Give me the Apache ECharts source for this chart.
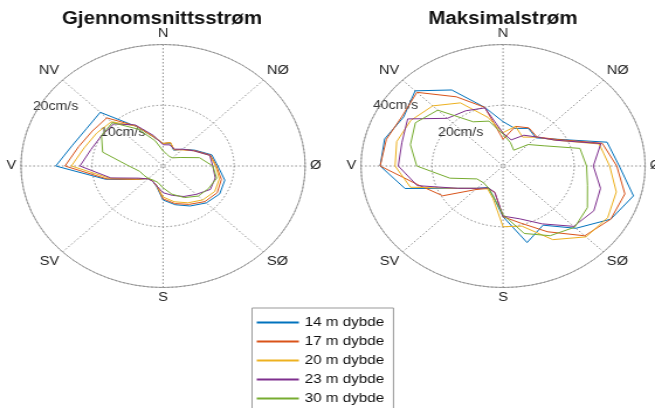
<!DOCTYPE html>
<html><head><meta charset="utf-8">
<script src="https://cdn.jsdelivr.net/npm/echarts@6/dist/echarts.min.js"></script>
<style>
html,body{margin:0;padding:0;background:#fff;overflow:hidden;width:655px;height:408px}
#c{width:560px;height:408px;transform:scaleX(1.16964);transform-origin:0 0;}
</style>
</head><body><div id="c"></div>
<script>
// compass labels for angle ticks (every 45 degrees)
const directions = ['N', 'NØ', 'Ø', 'SØ', 'S', 'SV', 'V', 'NV'];
// direction bins (degrees, clockwise from north)
const angles = [0, 15, 30, 45, 60, 75, 90, 105, 120, 135, 150, 165, 180, 195, 210, 225, 240, 255, 270, 285, 300, 315, 330, 345];
const seriesNames = ['14 m dybde', '17 m dybde', '20 m dybde', '23 m dybde', '30 m dybde'];
const titles = ['Gjennomsnittsstrøm', 'Maksimalstrøm'];
const avgRingLabels = ['10cm/s', '20cm/s'];
const maxRingLabels = ['20cm/s', '40cm/s'];

// Gjennomsnittsstrøm (cm/s)
const avg14 = [3.7, 3.9, 3.0, 3.9, 5.2, 7.1, 7.7, 9.0, 9.2, 8.6, 7.6, 6.6, 5.6, 3.5, 2.9, 2.9, 4.4, 8.4, 15.1, 13.2, 12.4, 12.5, 7.5, 4.9];
const avg17 = [3.7, 4.0, 3.1, 3.8, 5.1, 6.9, 7.5, 8.5, 8.8, 8.3, 7.3, 6.4, 5.4, 3.4, 2.9, 2.9, 4.4, 8.2, 13.8, 12.3, 11.5, 11.2, 7.6, 4.9];
const avg20 = [3.7, 4.0, 3.1, 3.8, 5.0, 6.8, 7.4, 8.2, 8.4, 7.9, 7.0, 6.1, 5.1, 3.4, 2.9, 2.9, 4.3, 7.8, 12.9, 11.5, 10.8, 10.3, 7.6, 5.0];
const avg23 = [3.5, 3.6, 3.2, 3.9, 5.0, 6.8, 7.0, 7.6, 7.7, 6.6, 5.8, 5.0, 4.4, 3.4, 2.9, 3.0, 4.0, 7.6, 11.7, 10.5, 10.0, 9.8, 7.8, 5.2];
const avg30 = [2.5, 2.0, 1.8, 1.9, 2.8, 5.3, 7.0, 7.8, 7.4, 7.0, 6.0, 4.8, 3.6, 2.8, 2.7, 2.9, 3.1, 3.4, 4.8, 8.8, 10.0, 10.1, 7.0, 4.3];

// Maksimalstrøm (cm/s)
const max14 = [14.6, 12.8, 14.3, 13.1, 17.6, 30.3, 32.7, 38, 35, 29, 22.5, 26.1, 16.7, 10.5, 8.2, 10.4, 14.7, 28.6, 34.6, 34.5, 32.3, 35, 28.9, 20];
const max17 = [8.8, 13.5, 14.5, 13.5, 17.5, 28.9, 32, 35.5, 35, 32.5, 25, 19.5, 16.7, 9, 8.5, 11, 19.6, 24.5, 34.6, 34, 32.8, 34.3, 26.3, 20];
const max20 = [11, 13.5, 11, 13.4, 17, 28, 30, 33, 34, 33, 28, 20.5, 20, 11, 8.7, 10.4, 14.7, 27, 30.4, 31, 30, 28, 24, 16.6];
const max23 = [10.8, 8.9, 11.7, 13.5, 17, 28.5, 25.4, 28.4, 29.5, 28.1, 22, 18, 16.5, 9, 8.3, 10.4, 14.7, 25, 29.5, 29.5, 31, 22.2, 21, 19.8];
const max30 = [10.5, 8, 6, 10, 13.3, 22.4, 23.5, 24.6, 27.4, 28.5, 26.5, 23, 16, 10.5, 8.3, 7.8, 8.5, 15.5, 24.3, 27, 28.5, 26, 16.8, 15.3];

const colors = ['#0072BD', '#D95319', '#EDB120', '#7E2F8E', '#77AC30'];
const avgSets = [avg14, avg17, avg20, avg23, avg30];
const maxSets = [max14, max17, max20, max23, max30];

const FONT = 'Liberation Sans, Arial, Helvetica, sans-serif';

function toPolar(vals) {
  const d = angles.map((a, i) => [vals[i], a]);
  d.push([vals[0], 360]);
  return d;
}

const gridDash = { color: '#6f6f6f', width: 0.8, type: [1.5, 2] };

function angleAxis(idx) {
  return {
    polarIndex: idx, type: 'value', min: 0, max: 360, interval: 45,
    startAngle: 90, clockwise: true,
    axisLine: { show: true, lineStyle: { color: '#8a8a8a', width: 0.8 } },
    axisTick: { show: false },
    splitLine: { show: true, lineStyle: gridDash },
    axisLabel: {
      margin: 4, fontSize: 12.5, color: '#222', fontFamily: FONT,
      formatter: v => (v >= 360 ? '' : directions[Math.round(v / 45)])
    }
  };
}
function radiusAxis(idx, max, interval) {
  return {
    polarIndex: idx, type: 'value', min: 0, max: max, interval: interval,
    axisLine: { show: false }, axisTick: { show: false }, axisLabel: { show: false },
    splitLine: { show: true, lineStyle: gridDash }
  };
}

const series = [];
seriesNames.forEach((n, i) => {
  series.push({ name: n, type: 'line', coordinateSystem: 'polar', polarIndex: 0,
    data: toPolar(avgSets[i]), symbol: 'none', color: colors[i],
    lineStyle: { width: 1, color: colors[i] } });
});
seriesNames.forEach((n, i) => {
  series.push({ name: n, type: 'line', coordinateSystem: 'polar', polarIndex: 1,
    data: toPolar(maxSets[i]), symbol: 'none', color: colors[i],
    lineStyle: { width: 1, color: colors[i] } });
});

const ringStyle = { fill: '#333', font: '12px ' + FONT, textVerticalAlign: 'middle' };

const chart = echarts.init(document.getElementById('c'));
chart.setOption({
  animation: false,
  backgroundColor: '#fff',
  title: [
    { text: titles[0], left: 138.5, top: 10, padding: 0, textAlign: 'center',
      textStyle: { fontSize: 17.5, fontWeight: 'bold', color: '#111', fontFamily: FONT } },
    { text: titles[1], left: 430, top: 10, padding: 0, textAlign: 'center',
      textStyle: { fontSize: 17.5, fontWeight: 'bold', color: '#111', fontFamily: FONT } }
  ],
  polar: [
    { center: [139.4, 166], radius: 121.5 },
    { center: [430.1, 166], radius: 121.5 }
  ],
  angleAxis: [angleAxis(0), angleAxis(1)],
  radiusAxis: [radiusAxis(0, 20, 10), radiusAxis(1, 40, 20)],
  legend: {
    orient: 'vertical', left: 215.5, top: 308, height: 140,
    data: seriesNames,
    itemWidth: 36, itemHeight: 14, itemGap: 6,
    itemStyle: { opacity: 0 },
    padding: [8, 8, 6, 3],
    backgroundColor: '#fff', borderColor: '#999', borderWidth: 1,
    textStyle: { fontSize: 13, color: '#111', fontFamily: FONT }
  },
  graphic: [
    { type: 'text', x: 28.2, y: 107, style: Object.assign({ text: avgRingLabels[1] }, ringStyle) },
    { type: 'text', x: 85.5, y: 133, style: Object.assign({ text: avgRingLabels[0] }, ringStyle) },
    { type: 'text', x: 318.9, y: 106, style: Object.assign({ text: maxRingLabels[1] }, ringStyle) },
    { type: 'text', x: 374.5, y: 133, style: Object.assign({ text: maxRingLabels[0] }, ringStyle) }
  ],
  series: series
});
</script>
</body></html>
